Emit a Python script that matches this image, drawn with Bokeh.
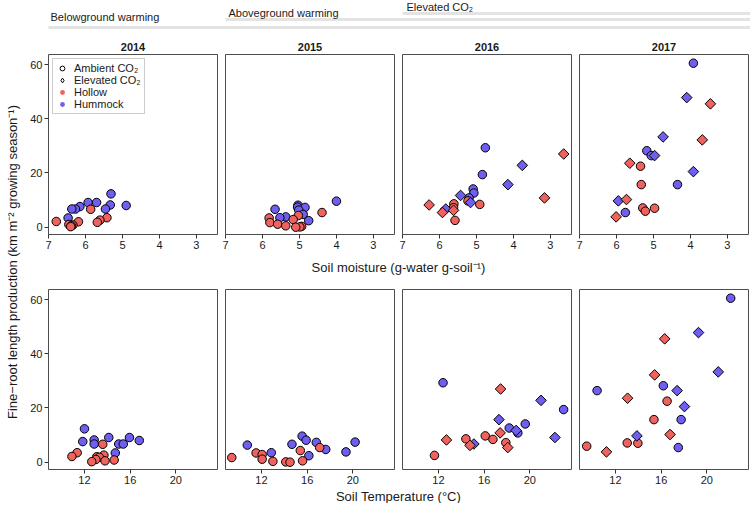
import numpy as np
from bokeh.plotting import figure
from bokeh.models import (ColumnDataSource, Range1d, FixedTicker, Legend, LegendItem,
                          CDSView, GroupFilter, Label)
from bokeh.layouts import row, column
from bokeh.embed import file_html
from bokeh.resources import INLINE

FONT = "Liberation Sans"

# ---------------- data ----------------
years = ["2014", "2015", "2016", "2017"]
moist_ticks = [7, 6, 5, 4, 3]
temp_ticks = [12, 16, 20]
prod_ticks = [0, 20, 40, 60]

# 2014 (all ambient CO2): 10 hummock, 10 hollow
topo_2014 = ["Hummock"] * 10 + ["Hollow"] * 10
co2_2014 = ["Ambient"] * 20
prod_2014 = [12.3, 9.1, 9.1, 8.2, 8.0, 7.6, 6.7, 6.7, 6.7, 3.4,
             6.6, 3.5, 2.6, 2.1, 2.0, 1.8, 1.0, 0.8, 0.5, 0.2]
moist_2014 = [5.31, 5.93, 5.70, 5.33, 4.90, 6.15, 5.46, 6.27, 6.37, 6.47,
              5.86, 5.42, 5.61, 6.79, 6.19, 5.68, 6.45, 6.34, 6.38, 6.40]
temp_2014 = [12.0, 14.13, 15.94, 12.85, 16.8, 11.85, 12.85, 15.0, 15.4, 14.7,
             13.6, 11.36, 13.7, 10.9, 13.08, 13.3, 13.0, 14.6, 13.8, 12.64]

# 2015 (all ambient CO2)
topo_2015 = ["Hummock"] * 10 + ["Hollow"] * 10
co2_2015 = ["Ambient"] * 20
prod_2015 = [9.6, 8.1, 7.4, 7.3, 6.6, 6.3, 4.7, 3.8, 3.5, 2.4,
             5.4, 4.3, 3.4, 2.8, 1.7, 1.1, 0.5, 0.3, 0.1, 0.0]
moist_2015 = [4.00, 5.04, 5.05, 4.85, 5.66, 5.02, 4.90, 5.37, 5.53, 4.75,
              4.39, 5.03, 5.82, 5.17, 5.80, 5.59, 5.37, 4.94, 4.99, 5.10]
temp_2015 = [15.56, 15.91, 20.2, 16.8, 14.67, 10.76, 17.63, 19.4, 12.86, 16.15,
             17.1, 15.4, 11.53, 12.06, 9.4, 12.06, 15.6, 13.0, 14.13, 14.5]

# 2016
topo_2016 = ["Hummock"] * 10 + ["Hollow"] * 10
co2_2016 = (["Ambient"] * 5 + ["Elevated"] * 5) * 2
prod_2016 = [29.3, 19.4, 14.1, 12.6, 10.8, 22.8, 15.7, 11.7, 9.1, 6.7,
             9.7, 8.6, 8.4, 7.2, 2.5, 27.0, 10.8, 8.2, 6.2, 5.4]
moist_2016 = [4.76, 4.84, 5.09, 5.07, 5.20, 3.76, 4.15, 5.43, 5.16, 5.83,
              5.23, 5.61, 4.91, 5.62, 5.58, 2.64, 3.16, 6.28, 5.62, 5.92]
temp_2016 = [12.4, 22.96, 19.6, 18.2, 18.95, 20.98, 17.3, 18.8, 22.2, 15.1,
             16.1, 14.4, 16.77, 17.9, 11.65, 17.44, 17.4, 12.7, 14.76, 18.07]

# 2017
topo_2017 = ["Hummock"] * 10 + ["Hollow"] * 10
co2_2017 = (["Ambient"] * 5 + ["Elevated"] * 5) * 2
prod_2017 = [60.5, 28.2, 26.4, 15.7, 5.4, 47.8, 33.3, 26.4, 20.5, 9.7,
             22.5, 15.7, 7.1, 7.0, 5.9, 45.5, 32.2, 23.6, 10.2, 3.8]
moist_2017 = [3.92, 5.18, 5.06, 4.35, 5.76, 4.10, 4.74, 4.97, 3.92, 5.95,
              5.35, 5.33, 5.29, 4.97, 5.22, 3.46, 3.68, 5.64, 5.73, 6.01]
temp_2017 = [22.09, 16.19, 10.39, 17.75, 17.5, 19.27, 21.0, 17.4, 18.04, 13.88,
             16.52, 15.37, 13.03, 13.96, 9.48, 16.31, 15.43, 13.06, 16.78, 11.21]

year_data = {
    "2014": (moist_2014, temp_2014, prod_2014, topo_2014, co2_2014),
    "2015": (moist_2015, temp_2015, prod_2015, topo_2015, co2_2015),
    "2016": (moist_2016, temp_2016, prod_2016, topo_2016, co2_2016),
    "2017": (moist_2017, temp_2017, prod_2017, topo_2017, co2_2017),
}

treatments = ["Belowground warming", "Aboveground warming", "Elevated CO\u2082"]
treat_start_panel = [0, 1, 2]

COLORS = {"Hollow": "#F0625E", "Hummock": "#6E5FF0"}
OUTLINE = "#4d4d4d"
TICKC = "#333333"
TXT = "#1a1a1a"

# ---------------- layout constants ----------------
FRAME_W = 169
FRAME_H = 180
YLAB_W = 24
LEFT_BORDER = 24
GAP = 7
COL_W = 750 - YLAB_W
BANNER_H = 52
XL1_H = 20
XL2_H = 14
TOP_T, BOT_T, BORDER_B = 2, 13, 20
TOP_H = TOP_T + FRAME_H + BORDER_B + 2
BOT_H = BOT_T + FRAME_H + BORDER_B
TOTAL_H = BANNER_H + TOP_H + XL1_H + BOT_H + XL2_H

frame_lefts = [LEFT_BORDER + i * (FRAME_W + GAP + 1) for i in range(4)]


def blank_fig(w, h):
    p = figure(width=w, height=h, x_range=Range1d(0, w), y_range=Range1d(h, 0),
               min_border=0, toolbar_location=None, output_backend="svg",
               x_axis_type=None, y_axis_type=None)
    p.outline_line_color = None
    p.grid.visible = False
    return p


def style_axis(ax):
    ax.axis_line_color = None
    ax.major_tick_line_color = TICKC
    ax.major_tick_out = 4
    ax.major_tick_in = 0
    ax.minor_tick_line_color = None
    ax.major_label_text_font = FONT
    ax.major_label_text_font_size = "11px"
    ax.major_label_text_color = TXT
    ax.major_label_standoff = 2


def make_panel(year, xkey, xr_bounds, xticks, idx, top_border, bottom_border, legend=False):
    m, t, pr, tp, c = year_data[year]
    src = ColumnDataSource(dict(moist=m, temp=t, prod=pr, topo=tp, co2=c,
                                color=[COLORS[v] for v in tp]))
    first = idx == 0
    left_b = LEFT_BORDER if first else GAP
    w = left_b + FRAME_W + 1
    h = top_border + FRAME_H + bottom_border
    p = figure(width=w, height=h,
               x_range=Range1d(*xr_bounds), y_range=Range1d(-2.7, 63.7),
               toolbar_location=None, output_backend="svg",
               min_border_left=left_b, min_border_right=1,
               min_border_top=top_border, min_border_bottom=bottom_border,
               y_axis_location="left" if first else None)
    p.grid.visible = False
    p.outline_line_color = OUTLINE
    p.outline_line_width = 1
    p.background_fill_color = "white"
    p.border_fill_color = "white"
    p.xaxis.ticker = FixedTicker(ticks=xticks)
    style_axis(p.xaxis[0])
    if first:
        p.yaxis.ticker = FixedTicker(ticks=prod_ticks)
        style_axis(p.yaxis[0])

    amb = CDSView(filter=GroupFilter(column_name="co2", group="Ambient"))
    ele = CDSView(filter=GroupFilter(column_name="co2", group="Elevated"))
    p.scatter(x=xkey, y="prod", source=src, view=amb, marker="circle", size=8.5,
              fill_color="color", line_color="black", line_width=1)
    p.scatter(x=xkey, y="prod", source=src, view=ele, marker="square", angle=np.pi / 4,
              size=7.5, fill_color="color", line_color="black", line_width=1)

    if legend:
        nan = [np.nan]
        r1 = p.scatter(x=nan, y=nan, marker="circle", size=8, fill_color=None,
                       line_color="black", line_width=1)
        r2 = p.scatter(x=nan, y=nan, marker="diamond", size=11,
                       fill_color=None, line_color="black", line_width=1)
        r3 = p.scatter(x=nan, y=nan, marker="circle", size=8, fill_color=COLORS["Hollow"],
                       line_color=None)
        r4 = p.scatter(x=nan, y=nan, marker="circle", size=8, fill_color=COLORS["Hummock"],
                       line_color=None)
        lg = Legend(items=[LegendItem(label="Ambient CO\u2082", renderers=[r1]),
                           LegendItem(label="Elevated CO\u2082", renderers=[r2]),
                           LegendItem(label="Hollow", renderers=[r3]),
                           LegendItem(label="Hummock", renderers=[r4])],
                    location="top_left")
        lg.label_text_font = FONT
        lg.label_text_font_size = "11px"
        lg.label_text_color = TXT
        lg.glyph_width = 12
        lg.glyph_height = 12
        lg.label_height = 12
        lg.label_standoff = 6
        lg.spacing = 0
        lg.padding = 3
        lg.margin = 4
        lg.border_line_color = "#999999"
        lg.border_line_width = 1
        lg.background_fill_alpha = 1
        p.add_layout(lg)
    return p


# ---------------- banner ----------------
banner = blank_fig(COL_W, BANNER_H)
bar_y = [27, 19, 13]
txt_y = [16, 12, 6]
txt_dx = [2, 3, 4]
for i, name in enumerate(treatments):
    x0 = frame_lefts[treat_start_panel[i]]
    banner.segment(x0=[x0], y0=[bar_y[i]], x1=[COL_W], y1=[bar_y[i]],
                   line_color="#e3e3e3", line_width=3)
    banner.add_layout(Label(x=x0 + txt_dx[i], y=txt_y[i], text=name, text_font=FONT,
                            text_font_size="11px", text_color=TXT,
                            text_baseline="middle", text_align="left"))
for i, yr in enumerate(years):
    banner.add_layout(Label(x=frame_lefts[i] + FRAME_W / 2, y=46, text=yr, text_font=FONT,
                            text_font_size="11px", text_font_style="bold", text_color=TXT,
                            text_baseline="middle", text_align="center"))

# ---------------- panels ----------------
top_panels = [make_panel(yr, "moist", (7.0, 2.43), moist_ticks, i, TOP_T, BORDER_B + 2,
                         legend=(i == 0))
              for i, yr in enumerate(years)]
bot_panels = [make_panel(yr, "temp", (8.85, 23.65), temp_ticks, i, BOT_T, BORDER_B)
              for i, yr in enumerate(years)]

center_x = (frame_lefts[0] + frame_lefts[3] + FRAME_W) / 2

xl1 = blank_fig(COL_W, XL1_H)
xl1.add_layout(Label(x=center_x, y=11, text="Soil moisture (g-water g-soil\u207b\u00b9)",
                     text_font=FONT, text_font_size="13px", text_color=TXT,
                     text_align="center", text_baseline="middle"))
xl2 = blank_fig(COL_W, XL2_H)
xl2.add_layout(Label(x=center_x, y=7, text="Soil Temperature (\u00b0C)",
                     text_font=FONT, text_font_size="13px", text_color=TXT,
                     text_align="center", text_baseline="middle"))

ylab = blank_fig(YLAB_W, TOTAL_H)
top_frame_top = BANNER_H + TOP_T
bot_frame_bot = BANNER_H + TOP_H + XL1_H + BOT_T + FRAME_H
ylab.add_layout(Label(x=12, y=(top_frame_top + bot_frame_bot) / 2,
                      text="Fine\u2212root length production (km m\u207b\u00b2 growing season\u207b\u00b9)",
                      text_font=FONT, text_font_size="13px", text_color=TXT,
                      text_align="center", text_baseline="middle", angle=np.pi / 2))

layout = row(ylab,
             column(banner, row(*top_panels, spacing=0), xl1,
                    row(*bot_panels, spacing=0), xl2, spacing=0),
             spacing=0)

open("out.html", "w").write(file_html(layout, INLINE))
